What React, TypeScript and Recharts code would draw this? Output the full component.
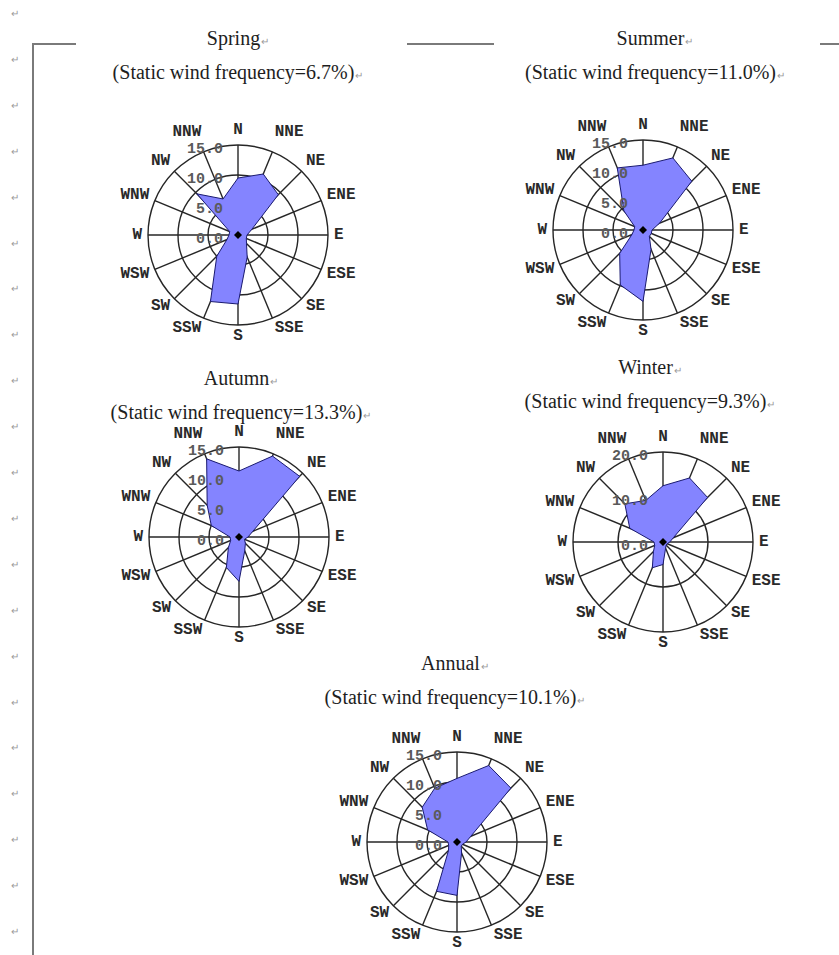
import { RadarChart, Radar, PolarGrid, PolarAngleAxis, PolarRadiusAxis } from 'recharts';

const DIRECTIONS = ['N', 'NNE', 'NE', 'ENE', 'E', 'ESE', 'SE', 'SSE', 'S', 'SSW', 'SW', 'WSW', 'W', 'WNW', 'NW', 'NNW'];

// wind direction frequency (%), clockwise from N
const springValues = [9.5, 11.0, 9.5, 2.5, 1.5, 1.5, 2.0, 4.0, 11.5, 12.0, 5.0, 2.0, 1.5, 1.5, 9.7, 6.5];
const summerValues = [10.8, 13.0, 11.5, 3.0, 1.5, 1.5, 1.5, 3.5, 11.9, 9.9, 5.5, 2.0, 1.5, 1.5, 4.5, 11.2];
const autumnValues = [11.0, 14.6, 14.3, 2.5, 1.5, 1.0, 1.5, 2.5, 7.4, 5.5, 2.5, 1.5, 1.5, 5.0, 7.5, 14.1];
const winterValues = [12.5, 15.4, 14.0, 2.5, 1.5, 1.0, 1.0, 1.5, 5.0, 6.2, 3.0, 2.0, 2.0, 8.0, 12.0, 10.0];
const annualValues = [10.6, 13.8, 12.7, 2.5, 1.5, 1.0, 1.0, 2.0, 8.9, 8.9, 2.0, 1.5, 1.5, 5.3, 8.2, 9.7];

const seasonNames = ['Spring', 'Summer', 'Autumn', 'Winter', 'Annual'];
const staticWind = ['6.7', '11.0', '13.3', '9.3', '10.1'];
const radiusTicks = [
  [0, 5, 10, 15],
  [0, 5, 10, 15],
  [0, 5, 10, 15],
  [0, 10, 20],
  [0, 5, 10, 15],
];
const seasonValues = [springValues, summerValues, autumnValues, winterValues, annualValues];

// page layout (rose centre, title centre)
const layout = [
  { cx: 238, cy: 235, tx: 238, ty: 38 },
  { cx: 643, cy: 230, tx: 655, ty: 38 },
  { cx: 239, cy: 537, tx: 241, ty: 378 },
  { cx: 663, cy: 542, tx: 650, ty: 367 },
  { cx: 457, cy: 842, tx: 455, ty: 663 },
];

const LABEL_FONT = '"Liberation Mono", "DejaVu Sans Mono", monospace';
const SERIF = '"Liberation Serif", "Times New Roman", serif';
const R = 90;
const BOX = 280;

const AngleTick = (props: any) => {
  const { x, y, payload } = props;
  const rad = (payload.coordinate * Math.PI) / 180;
  const c = Math.cos(rad);
  const s = Math.sin(rad);
  const anchor = c > 0.1 ? 'start' : c < -0.1 ? 'end' : 'middle';
  // near-vertical labels get lifted clear of the radius labels
  const lift = s > 0 ? (Math.abs(c) > 0.1 && Math.abs(c) < 0.5 ? 16 : 9) : 5;
  return (
    <text x={x} y={y - s * lift} textAnchor={anchor} dominantBaseline="central" fontFamily={LABEL_FONT} fontSize={16} fontWeight="bold" fill="#2a2a2a">
      {payload.value}
    </text>
  );
};

const RadiusTick = (props: any) => {
  const { x, y, payload } = props;
  return (
    <g>
      {payload.value === 0 && <path d={`M${x},${y - 4}L${x + 4},${y}L${x},${y + 4}L${x - 4},${y}Z`} fill="#000" />}
      <text x={x - 15} y={y + 4} textAnchor="end" dominantBaseline="central" fontFamily={LABEL_FONT} fontSize={15} fontWeight="bold" fill="#5a5a5a">
        {Number(payload.value).toFixed(1)}
      </text>
    </g>
  );
};

function Rose({ index }: { index: number }) {
  const values = seasonValues[index];
  const ticks = radiusTicks[index];
  const data = DIRECTIONS.map((dir, i) => ({ dir, value: values[i] }));
  const { cx, cy } = layout[index];
  return (
    <div style={{ position: 'absolute', left: cx - BOX / 2, top: cy - BOX / 2 }}>
      <RadarChart width={BOX} height={BOX} data={data} cx={BOX / 2} cy={BOX / 2} outerRadius={R} startAngle={90} endAngle={-270} margin={{ top: 0, right: 0, bottom: 0, left: 0 }}>
        <Radar dataKey="value" stroke="#1a1a70" strokeWidth={1} fill="#8484ff" fillOpacity={1} isAnimationActive={false} />
        <PolarGrid gridType="circle" stroke="#262626" strokeWidth={1.4} />
        <PolarAngleAxis dataKey="dir" tick={<AngleTick />} tickLine={false} axisLine={false} tickSize={6} />
        <PolarRadiusAxis angle={90} domain={[0, ticks[ticks.length - 1]]} ticks={ticks} tickCount={ticks.length} axisLine={false} tickLine={false} tick={<RadiusTick />} />
      </RadarChart>
    </div>
  );
}

const mark = <span style={{ fontSize: 10, color: '#9a9a9a', marginLeft: 1 }}>↵</span>;

function Title({ index }: { index: number }) {
  const { tx, ty } = layout[index];
  const line = { position: 'absolute' as const, left: tx - 200, width: 400, height: 24, lineHeight: '24px', textAlign: 'center' as const, fontFamily: SERIF, fontSize: 20, color: '#1e1e1e', whiteSpace: 'nowrap' as const };
  return (
    <>
      <div style={{ ...line, top: ty - 12 }}>{seasonNames[index]}{mark}</div>
      <div style={{ ...line, top: ty + 22 }}>(Static wind frequency={staticWind[index]}%){mark}</div>
    </>
  );
}

const paragraphRows = Array.from({ length: 21 }, (_, i) => i);

export default function App() {
  return (
    <div style={{ position: 'absolute', left: 0, top: 0, width: 839, height: 955, background: '#fff', overflow: 'hidden' }}>
      {paragraphRows.map((i) => (
        <span key={i} style={{ position: 'absolute', left: 11, top: 8 + i * 45.9, fontSize: 10, color: '#9a9a9a', fontFamily: SERIF }}>↵</span>
      ))}
      <div style={{ position: 'absolute', left: 32, top: 43, width: 44, height: 2, background: '#7a7a7a' }} />
      <div style={{ position: 'absolute', left: 32, top: 43, width: 2, height: 912, background: '#7a7a7a' }} />
      <div style={{ position: 'absolute', left: 407, top: 43, width: 87, height: 2, background: '#7a7a7a' }} />
      <div style={{ position: 'absolute', left: 820, top: 43, width: 19, height: 2, background: '#7a7a7a' }} />
      {seasonNames.map((_, i) => (
        <Title key={`t${i}`} index={i} />
      ))}
      {seasonNames.map((_, i) => (
        <Rose key={`r${i}`} index={i} />
      ))}
    </div>
  );
}
